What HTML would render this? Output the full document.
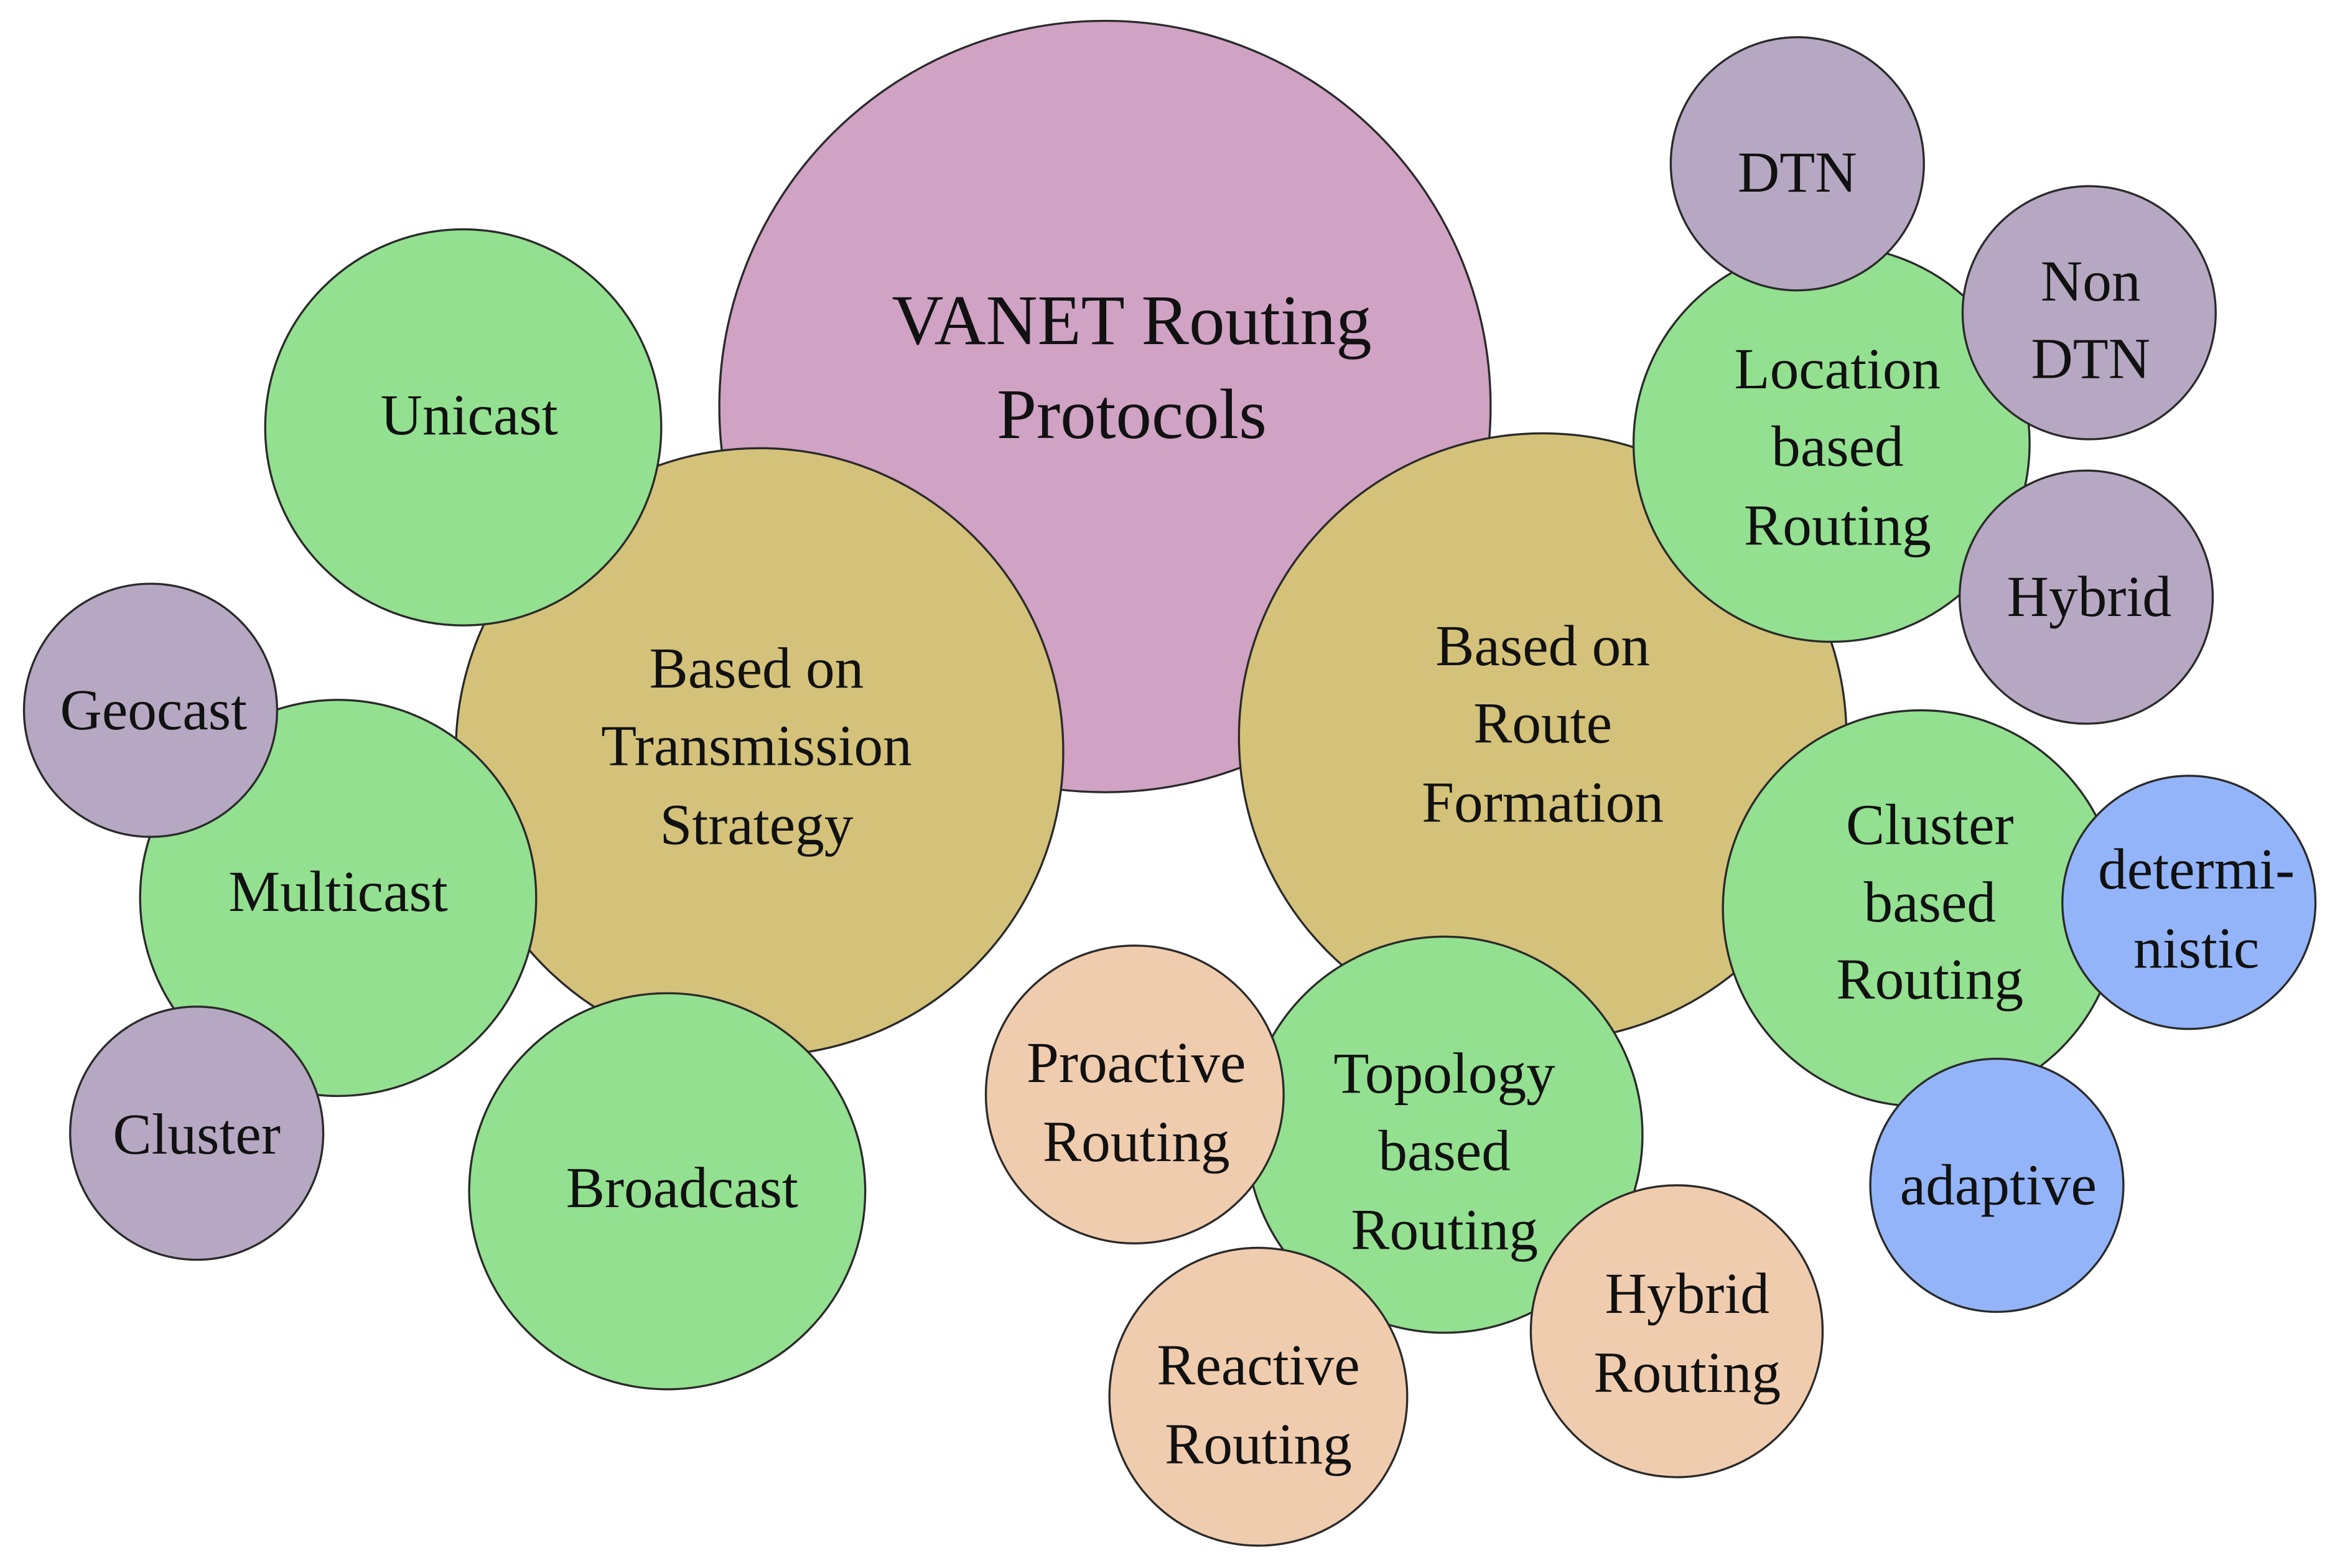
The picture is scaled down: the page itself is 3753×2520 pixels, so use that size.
<!DOCTYPE html>
<html><head><meta charset="utf-8"><style>
html,body{margin:0;padding:0;background:#fff;}
svg{display:block;}
text{font-family:"Liberation Serif",serif;fill:#111;text-anchor:middle;dominant-baseline:central;}
circle{stroke:#2a2a2a;stroke-width:1.4;}
</style></head><body>
<svg width="3753" height="2520" viewBox="0 0 1568 1053" xmlns="http://www.w3.org/2000/svg">
<rect width="1568" height="1053" fill="#fff"/>
<circle cx="742" cy="273" r="259" fill="#D0A2C4"/>
<circle cx="510" cy="505" r="204" fill="#D4C27A"/>
<circle cx="1036" cy="495" r="204" fill="#D4C27A"/>
<circle cx="311" cy="287" r="133" fill="#93E090"/>
<circle cx="227" cy="603" r="133" fill="#93E090"/>
<circle cx="448" cy="800" r="133" fill="#93E090"/>
<circle cx="101" cy="477" r="85" fill="#B6A8C2"/>
<circle cx="132" cy="761" r="85" fill="#B6A8C2"/>
<circle cx="1230" cy="298" r="133" fill="#93E090"/>
<circle cx="1207" cy="110" r="85" fill="#B6A8C2"/>
<circle cx="1403" cy="210" r="85" fill="#B6A8C2"/>
<circle cx="1401" cy="401" r="85" fill="#B6A8C2"/>
<circle cx="1290" cy="610" r="133" fill="#93E090"/>
<circle cx="1470" cy="606" r="85" fill="#93B4F8"/>
<circle cx="1341" cy="796" r="85" fill="#93B4F8"/>
<circle cx="970" cy="762" r="133" fill="#93E090"/>
<circle cx="762" cy="735" r="100" fill="#F0CCAE"/>
<circle cx="845" cy="938" r="100" fill="#F0CCAE"/>
<circle cx="1126" cy="894" r="98" fill="#F0CCAE"/>

<g font-size="48"><text x="760" y="215">VANET Routing</text><text x="760" y="278">Protocols</text></g>
<g font-size="39">
<text x="508" y="449">Based on</text><text x="508" y="501">Transmission</text><text x="508" y="554">Strategy</text>
<text x="1036" y="434">Based on</text><text x="1036" y="486">Route</text><text x="1036" y="539">Formation</text>
<text x="315" y="279">Unicast</text>
<text x="227" y="599">Multicast</text>
<text x="458" y="798">Broadcast</text>
<text x="103" y="477">Geocast</text>
<text x="132" y="762">Cluster</text>
<text x="1234" y="248">Location</text><text x="1234" y="300">based</text><text x="1234" y="353">Routing</text>
<text x="1207" y="116">DTN</text>
<text x="1404" y="189">Non</text><text x="1404" y="241">DTN</text>
<text x="1403" y="401">Hybrid</text>
<text x="1296" y="554">Cluster</text><text x="1296" y="606">based</text><text x="1296" y="658">Routing</text>
<text x="1475" y="584">determi-</text><text x="1475" y="637">nistic</text>
<text x="1342" y="796">adaptive</text>
<text x="970" y="721">Topology</text><text x="970" y="773">based</text><text x="970" y="826">Routing</text>
<text x="763" y="714">Proactive</text><text x="763" y="767">Routing</text>
<text x="845" y="917">Reactive</text><text x="845" y="970">Routing</text>
<text x="1133" y="869">Hybrid</text><text x="1133" y="922">Routing</text>
</g>
</svg>
</body></html>
